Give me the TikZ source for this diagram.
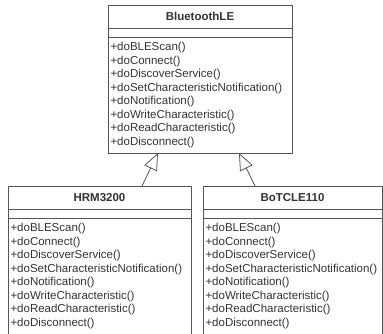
\documentclass[tikz,border=0pt]{standalone}
\usepackage{fontspec}
\setmainfont{Liberation Sans}
\usetikzlibrary{arrows.meta,positioning}

\definecolor{umlline}{HTML}{555555}
\definecolor{umltext}{HTML}{333333}

% method list shared by all three classes
\newcommand{\blemethods}{+doBLEScan()\\+doConnect()\\+doDiscoverService()\\
  +doSetCharacteristicNotification()\\+doNotification()\\
  +doWriteCharacteristic()\\+doReadCharacteristic()\\+doDisconnect()}

\begin{document}
\begin{tikzpicture}[x=1pt,y=1pt,line width=0.8pt,
  font=\fontsize{11.5}{13.57}\selectfont,
  cname/.style={draw=umlline,outer sep=0pt,minimum width=#1,minimum height=23pt,
    inner sep=0pt,text=umltext,font=\fontsize{11.5}{13.57}\selectfont\bfseries},
  cattr/.style={draw=umlline,outer sep=0pt,minimum width=#1,minimum height=9pt,inner sep=0pt},
  cops/.style={draw=umlline,outer sep=0pt,text width=#1,minimum height=116pt,
    inner xsep=2.5pt,inner ysep=0pt,align=left,text=umltext},
  inherit/.style={draw=umlline,-{Triangle[open,length=17pt,width=14pt]}}]
\useasboundingbox (0,0) rectangle (383,-334);

% parent class
\node[cname=184pt,anchor=north west] (ble) at (108,-5) {BluetoothLE};
\node[cattr=184pt,below=0pt of ble] (bleattr) {};
\node[cops=179pt,below=0pt of bleattr] (bleops) {\blemethods};

% subclasses
\node[cname=183pt,anchor=north west] (hrm) at (8,-186) {HRM3200};
\node[cattr=183pt,below=0pt of hrm] (hrmattr) {};
\node[cops=178pt,below=0pt of hrmattr] (hrmops) {\blemethods};

\node[cname=179pt,anchor=north west] (tcl) at (203,-186) {BoTCLE110};
\node[cattr=179pt,below=0pt of tcl] (tclattr) {};
\node[cops=174pt,below=0pt of tclattr] (tclops) {\blemethods};

\draw[inherit] ([xshift=42.5pt]hrm.north) -- ([xshift=-42pt]bleops.south);
\draw[inherit] ([xshift=-37.5pt]tcl.north) -- ([xshift=39pt]bleops.south);
\end{tikzpicture}
\end{document}
